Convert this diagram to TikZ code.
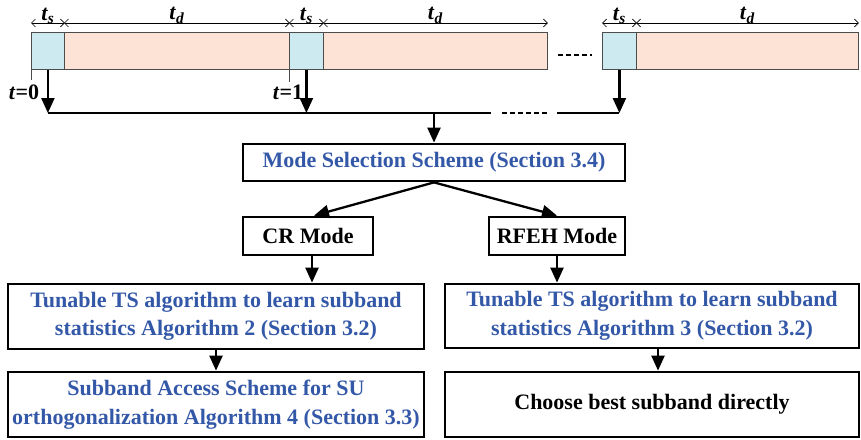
\documentclass[tikz,border=0pt]{standalone}
\usepackage{fontspec}
\setmainfont{Liberation Serif}
\usetikzlibrary{arrows.meta, positioning}

\definecolor{slotblue}{RGB}{205,234,240}
\definecolor{slotpink}{RGB}{252,227,214}
\definecolor{textblue}{RGB}{52,88,168}

\begin{document}
\begin{tikzpicture}[
    x=1pt, y=-1pt,
    font=\fontsize{22}{28.5}\selectfont\bfseries,
    cell/.style={draw=black!70, line width=0.8pt, inner sep=0pt,
                 minimum height=37pt, anchor=north west},
    scell/.style={cell, fill=slotblue},
    dcell/.style={cell, fill=slotpink},
    dim/.style={{Straight Barb[length=4pt,width=8pt]}-{Straight Barb[length=4pt,width=8pt]}, line width=0.7pt},
    box/.style={rectangle, draw, line width=2.8pt, align=center, inner sep=0pt},
    arrow/.style={-{Triangle[length=15pt, width=13pt]}, line width=2.3pt},
    bus/.style={line width=2.3pt}
]
\useasboundingbox (0,0) rectangle (861,439);

% time slots
\node[scell, minimum width=33pt] (s0) at (31,32) {};
\node[dcell, minimum width=225pt] (d0) at (64,32) {};
\node[scell, minimum width=34pt] (s1) at (289,32) {};
\node[dcell, minimum width=224pt] (d1) at (323,32) {};
\node[scell, minimum width=34pt] (s2) at (602,32) {};
\node[dcell, minimum width=222pt] (d2) at (636,32) {};
\draw[line width=2.3pt, dash pattern=on 5pt off 3pt] ([xshift=10pt,yshift=-4pt]d1.east) -- ([xshift=-10pt,yshift=-4pt]s2.west);

% durations
\foreach \c/\n in {s0/s, d0/d, s1/s, d1/d, s2/s, d2/d} {
  \draw[dim] ([yshift=9pt]\c.north west) -- ([yshift=9pt]\c.north east)
    node[midway, above=-4pt] {\textit{t}\textsubscript{\textit{\n}}};
}

% t labels
\draw[line width=0.8pt, black!70] (s0.south west) -- ++(0,10);
\draw[line width=0.8pt, black!70] (s1.south west) -- ++(0,12);
\node (t0) at (24,92) {\textit{t}=0};
\node (t1) at (288,92) {\textit{t}=1};

% bus
\coordinate (j0) at (s0.south |- 0,113);
\coordinate (j1) at (s1.south |- 0,113);
\coordinate (j2) at (s2.south |- 0,113);
\coordinate (jm) at (434,113);
\draw[arrow] (s0.south) -- (j0);
\draw[arrow] (s1.south) -- (j1);
\draw[arrow] (s2.south) -- (j2);
\draw[bus] (j0) -- (491,113);
\draw[bus, dash pattern=on 5pt off 3pt] (502,113) -- (547,113);
\draw[bus] (557,113) -- (j2);

% flow
\node[box, text=textblue, minimum width=382pt, minimum height=37pt] (ms) at (434,162.5) {Mode Selection Scheme (Section 3.4)};
\node[box, minimum width=130pt, minimum height=38pt] (cr) at (308,236) {CR Mode};
\node[box, minimum width=136pt, minimum height=38pt] (rf) at (557,236) {RFEH Mode};
\node[box, text=textblue, minimum width=416pt, minimum height=65pt] (ts1) at (216,316.5)
  {Tunable TS algorithm to learn subband\\statistics Algorithm 2 (Section 3.2)};
\node[box, text=textblue, minimum width=414pt, minimum height=64pt] (ts2) at (652,316)
  {Tunable TS algorithm to learn subband\\statistics Algorithm 3 (Section 3.2)};
\node[box, text=textblue, minimum width=416pt, minimum height=65pt] (acc) at (216,404.5)
  {Subband Access Scheme for SU\\orthogonalization Algorithm 4 (Section 3.3)};
\node[box, minimum width=414pt, minimum height=65pt] (best) at (652,404.5) {Choose best subband directly};

\draw[arrow] (jm) -- (ms.north);
\draw[arrow] (ms.south) -- ([xshift=6pt]cr.north);
\draw[arrow] (ms.south) -- (rf.north);
\draw[arrow] ([xshift=4pt]cr.south) -- ([xshift=4pt]cr.south |- ts1.north);
\draw[arrow] (rf.south) -- (rf.south |- ts2.north);
\draw[arrow] (ts1.south) -- (acc.north);
\draw[arrow] ([xshift=6pt]ts2.south) -- ([xshift=6pt]best.north);
\end{tikzpicture}
\end{document}
